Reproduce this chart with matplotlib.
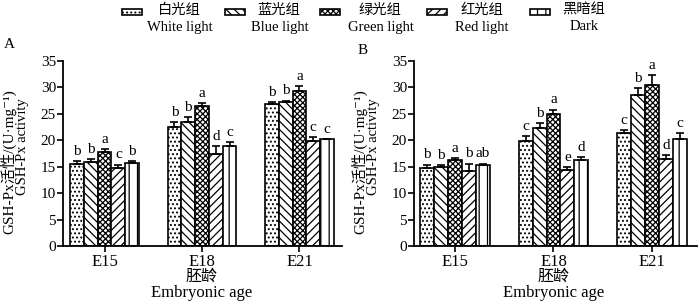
import numpy as np
import matplotlib.pyplot as plt
from matplotlib.patches import Rectangle

plt.rcParams['font.family'] = ['Liberation Serif', 'Noto Sans CJK SC', 'DejaVu Serif']
plt.rcParams['hatch.linewidth'] = 0.9

ages = ['E15', 'E18', 'E21']
groups_cn = ['白光组', '蓝光组', '绿光组', '红光组', '黑暗组']
groups_en = ['White light', 'Blue light', 'Green light', 'Red light', 'Dark']
hatches = ['....', '\\\\\\\\', 'xxxxxx', '////', '||']

# panel A: mean / error / letters, rows = light group, cols = age
a_mean = [[15.6, 22.6, 26.8],
          [15.8, 23.4, 27.2],
          [17.8, 26.4, 29.4],
          [14.8, 17.4, 19.9],
          [15.7, 18.9, 20.2]]
a_err = [[0.5, 0.9, 0.4],
         [0.6, 1.0, 0.3],
         [0.5, 0.6, 0.9],
         [0.6, 1.5, 0.7],
         [0.4, 0.7, 0.1]]
a_let = [['b', 'b', 'b'],
         ['b', 'b', 'b'],
         ['a', 'a', 'a'],
         ['c', 'd', 'c'],
         ['b', 'c', 'c']]

# panel B
b_mean = [[14.7, 19.9, 21.4],
          [15.0, 22.4, 28.5],
          [16.3, 24.9, 30.5],
          [14.1, 14.3, 16.5],
          [15.4, 16.2, 20.2]]
b_err = [[0.7, 0.9, 0.6],
         [0.3, 0.9, 1.3],
         [0.4, 0.9, 1.9],
         [1.5, 0.7, 0.7],
         [0.2, 0.6, 1.1]]
b_let = [['b', 'c', 'c'],
         ['b', 'b', 'b'],
         ['a', 'a', 'a'],
         ['b', 'e', 'd'],
         ['ab', 'd', 'c']]

W, H = 700, 303
fig = plt.figure(figsize=(7, 3.03), dpi=100)
axA = fig.add_axes([63 / W, 57 / H, 279 / W, 185 / H])
axB = fig.add_axes([414 / W, 57 / H, 283 / W, 185 / H])

w = 0.1415
x = np.arange(len(ages))


def draw(ax, mean, err, let, xlim, x0):
    for i in range(5):
        pos = x + (i - 2) * w
        ax.bar(pos, mean[i], w, color='white', edgecolor='black',
               hatch=hatches[i], linewidth=1.2, zorder=2)
        ax.errorbar(pos, mean[i], yerr=[np.zeros(3), err[i]], fmt='none',
                    ecolor='black', elinewidth=1.2, capsize=3, capthick=1.2,
                    zorder=3)
        for j in range(3):
            ax.text(pos[j], mean[i][j] + err[i][j] + 0.6, let[i][j],
                    ha='center', va='bottom', fontsize=11)
    ax.set_xlim(*xlim)
    ax.set_ylim(0, 35)
    ax.set_yticks(range(0, 36, 5))
    ax.set_xticks(x)
    ax.set_xticklabels(ages, fontsize=12)
    ax.tick_params(axis='y', labelsize=11, direction='out', length=4,
                   width=1.2, pad=1)
    ax.tick_params(axis='x', direction='out', length=4, width=1.2, pad=2)
    for s in ['top', 'right']:
        ax.spines[s].set_visible(False)
    for s in ['left', 'bottom']:
        ax.spines[s].set_linewidth(1.3)
    # axis titles, two lines each
    xc = (x0 + (1 - xlim[0]) / (xlim[1] - xlim[0]) * ax.bbox.width) / W
    fig.text(xc, 1 - 277 / H, '胚龄', fontsize=11.5, ha='center', va='center')
    fig.text(xc, 1 - 293 / H, 'Embryonic age', fontsize=12, ha='center',
             va='center')
    fig.text((x0 - 55) / W, 1 - 162 / H, 'GSH-Px活性/(U·mg⁻¹)', fontsize=11,
             rotation=90, ha='center', va='center')
    fig.text((x0 - 40) / W, 1 - 147 / H, 'GSH-Px activity', fontsize=10.5,
             rotation=90, ha='center', va='center')


draw(axA, a_mean, a_err, a_let, (-0.426, 2.436), 63)
draw(axB, b_mean, b_err, b_let, (-0.416, 2.457), 414)

fig.text(9 / W, 1 - 45 / H, 'A', fontsize=11, ha='center', va='center')
fig.text(363 / W, 1 - 51 / H, 'B', fontsize=11, ha='center', va='center')

# legend, laid out by hand
hx = [122, 225, 320, 427, 530]
tx = [158, 257, 358, 460, 562]
cx = [180, 280, 381, 482, 584]
for i in range(5):
    fig.patches.append(Rectangle((hx[i] / W, 1 - 15 / H), 20 / W, 6 / H,
                                 transform=fig.transFigure, facecolor='white',
                                 edgecolor='black', hatch=hatches[i],
                                 linewidth=1.2))
    fig.text(tx[i] / W, 1 - 10 / H, groups_cn[i], fontsize=10.3,
             ha='left', va='center')
    fig.text(cx[i] / W, 1 - 27 / H, groups_en[i], fontsize=10.5,
             ha='center', va='center')

fig.savefig('out.png', dpi=100)
